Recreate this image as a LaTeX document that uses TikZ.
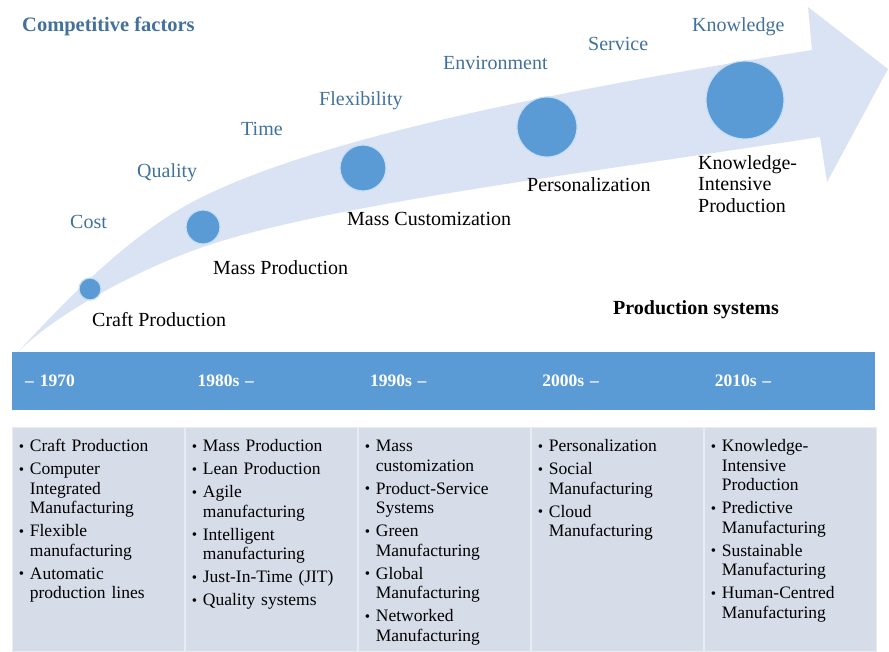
\documentclass[tikz,border=0pt]{standalone}
\usepackage{fontspec}
\setmainfont{Liberation Serif}
\usepackage{tikz}
\usetikzlibrary{positioning}

\definecolor{headblue}{RGB}{91,155,213}
\definecolor{arrowblue}{RGB}{218,227,243}
\definecolor{ringblue}{RGB}{197,222,244}
\definecolor{cellgrey}{RGB}{214,220,232}
\definecolor{factorblue}{RGB}{65,113,156}

\newcommand{\bitem}[1]{\par\hangindent=11pt\hangafter=1\noindent\makebox[11pt][l]{\fontsize{15}{15}\selectfont\raisebox{0.5pt}{•}}#1\par}

\tikzstyle{factorlabel} = [anchor=base west, inner sep=0pt, text=factorblue, font=\fontsize{20}{22}\selectfont]
\tikzstyle{stagedot} = [circle, inner sep=0pt, fill=headblue, draw=ringblue, line width=1.2pt]
\tikzstyle{systemlabel} = [anchor=base west, inner sep=0pt, font=\fontsize{20}{21.5}\selectfont]
\tikzstyle{yearcell} = [anchor=north west, text width=146pt, inner xsep=13pt, minimum height=57pt, fill=headblue, draw=headblue, text=white, font=\fontsize{17.5}{20}\selectfont\bfseries]
\tikzstyle{bodycell} = [minimum width=172pt, minimum height=224pt, fill=cellgrey, draw=white!45!cellgrey, line width=1pt]
\tikzstyle{itemlist} = [inner sep=0pt, text width=155pt, align=left, font=\fontsize{17.5}{19.5}\selectfont, execute at begin node={\setlength{\parskip}{3.5pt}}]

\begin{document}
\begin{tikzpicture}[x=1pt, y=-1pt, node distance=0pt]
    \useasboundingbox (0,0) rectangle (889,651);

    % the curved arrow
    \fill [arrowblue] (18,352) .. controls (78,286) and (140,228) .. (200,198)
        .. controls (330,133) and (592,85) .. (812,50)
        -- (808,7) -- (888,69) -- (827,182) -- (820,137)
        .. controls (572,175) and (320,206) .. (200,248)
        .. controls (140,269) and (58,312) .. (18,352) -- cycle;

    \node (s1) [stagedot, minimum size=22pt] at (90,289) {};
    \node (s2) [stagedot, minimum size=34pt] at (203,227) {};
    \node (s3) [stagedot, minimum size=46pt] at (363,168) {};
    \node (s4) [stagedot, minimum size=60pt] at (547,127) {};
    \node (s5) [stagedot, minimum size=78pt] at (745,100) {};

    \node (title) [factorlabel, font=\fontsize{20.5}{22}\selectfont\bfseries] at (22,31) {Competitive factors};
    \node (f1) [factorlabel] at (70,228) {Cost};
    \node (f2) [factorlabel] at (137,177) {Quality};
    \node (f3) [factorlabel] at (241,135) {Time};
    \node (f4) [factorlabel] at (319,105) {Flexibility};
    \node (f5) [factorlabel] at (443,69) {Environment};
    \node (f6) [factorlabel] at (588,50) {Service};
    \node (f7) [factorlabel] at (692,31) {Knowledge};

    \node (p1) [systemlabel] at (92,326) {Craft Production};
    \node (p2) [systemlabel] at (213,274) {Mass Production};
    \node (p3) [systemlabel] at (347,225) {Mass Customization};
    \node (p4) [systemlabel] at (527,191) {Personalization};
    \node (p5) [systemlabel, anchor=north west, align=left] at (698,155) {Knowledge-\\Intensive\\Production};
    \node (ps) [systemlabel, font=\fontsize{20}{22}\selectfont\bfseries] at (613,314) {Production systems};

    % time line
    \node (h1) [yearcell] at (12,352) {– 1970};
    \node (h2) [yearcell, right=of h1] {1980s –};
    \node (h3) [yearcell, right=of h2] {1990s –};
    \node (h4) [yearcell, right=of h3] {2000s –};
    \node (h5) [yearcell, right=of h4] {2010s –};

    \node (b1) [bodycell, below=18pt of h1] {};
    \node (b2) [bodycell, right=of b1] {};
    \node (b3) [bodycell, right=of b2] {};
    \node (b4) [bodycell, right=of b3] {};
    \node (b5) [bodycell, right=of b4] {};

    \node (l1) [itemlist, below right=1pt and 7pt of b1.north west] {%
        \bitem{Craft Production}
        \bitem{Computer\newline Integrated\newline Manufacturing}
        \bitem{Flexible\newline manufacturing}
        \bitem{Automatic\newline production lines}};
    \node (l2) [itemlist, below right=1pt and 7pt of b2.north west] {%
        \bitem{Mass Production}
        \bitem{Lean Production}
        \bitem{Agile\newline manufacturing}
        \bitem{Intelligent\newline manufacturing}
        \bitem{Just-In-Time (JIT)}
        \bitem{Quality systems}};
    \node (l3) [itemlist, below right=1pt and 7pt of b3.north west] {%
        \bitem{Mass\newline customization}
        \bitem{Product-Service\newline Systems}
        \bitem{Green\newline Manufacturing}
        \bitem{Global\newline Manufacturing}
        \bitem{Networked\newline Manufacturing}};
    \node (l4) [itemlist, below right=1pt and 7pt of b4.north west] {%
        \bitem{Personalization}
        \bitem{Social\newline Manufacturing}
        \bitem{Cloud\newline Manufacturing}};
    \node (l5) [itemlist, below right=1pt and 7pt of b5.north west] {%
        \bitem{Knowledge-\newline Intensive\newline Production}
        \bitem{Predictive\newline Manufacturing}
        \bitem{Sustainable\newline Manufacturing}
        \bitem{Human-Centred\newline Manufacturing}};
\end{tikzpicture}
\end{document}
